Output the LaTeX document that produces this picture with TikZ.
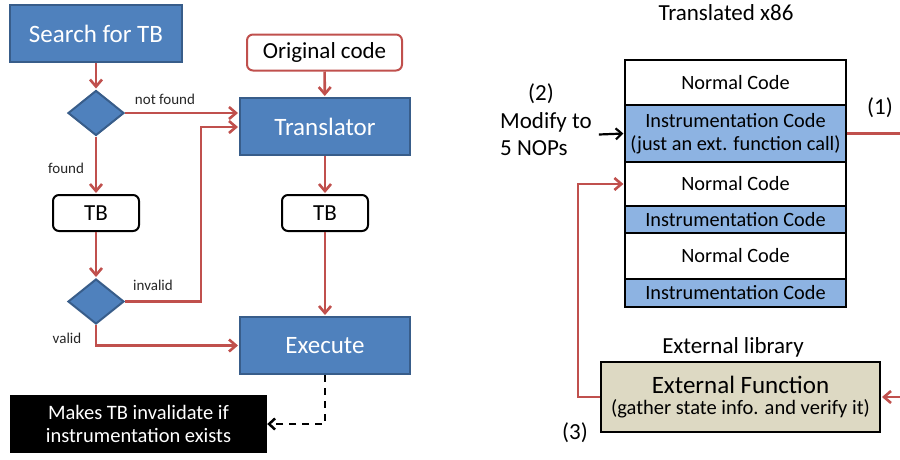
\documentclass[tikz,border=0pt]{standalone}
\usepackage{fontspec}
\setmainfont{Carlito}
\usetikzlibrary{arrows.meta,shapes.geometric,calc}
\definecolor{bluefill}{HTML}{4F81BD}
\definecolor{blueedge}{HTML}{385D8A}
\definecolor{redline}{HTML}{C0504D}
\definecolor{lightblue}{HTML}{8DB3E2}
\definecolor{tanfill}{HTML}{DDD9C3}
\newcommand{\fs}[1]{\fontsize{#1}{#1}\selectfont}
\tikzset{
  bluebox/.style={draw=blueedge, fill=bluefill, line width=2pt, text=white,
    font=\fs{25}, minimum width=170pt, minimum height=57pt, inner sep=0pt},
  decision/.style={diamond, draw=blueedge, fill=bluefill, line width=2pt,
    minimum width=56pt, minimum height=45pt, inner sep=0pt},
  tbbox/.style={draw=black, fill=white, rounded corners=6pt, line width=2pt,
    font=\fs{23}, minimum width=86pt, minimum height=36pt, inner sep=0pt},
  codebox/.style={draw=black, line width=1.2pt, minimum width=221pt, inner sep=0pt,
    font=\fs{20.3}, align=center},
  flow/.style={draw=redline, line width=2.6pt, shorten >=1pt,
    -{Straight Barb[length=7pt,width=12pt,line width=2.6pt]}},
  hint/.style={draw=black, line width=2.5pt, dash pattern=on 7pt off 6pt,
    -{Straight Barb[length=6pt,width=11pt,line width=2.5pt]}},
  small/.style={font=\fs{15}, text=black!85, inner sep=0pt},
  plain/.style={font=\fs{23}, inner sep=0pt}
}
\begin{document}
\begin{tikzpicture}[x=1pt,y=-1pt]
\useasboundingbox (0,0) rectangle (900,459);
\clip (0,0) rectangle (900,459);

% ---- translation flow ----
\node[bluebox, minimum width=172pt] (search) at (96,33.5) {Search for TB};
\node[draw=redline, fill=white, rounded corners=6pt, line width=2pt, font=\fs{23},
  minimum width=155pt, minimum height=36pt, inner sep=0pt] (orig) at (324.5,52.5) {Original code};
\node[bluebox] (trans) at (325,126.5) {Translator};
\node[decision] (d1) at (96,113) {};
\node[tbbox] (tbl) at (96,213) {TB};
\node[tbbox] (tbr) at (325,213) {TB};
\node[decision] (d2) at (96,301.5) {};
\node[bluebox] (exec) at (325,345.5) {Execute};
\node[fill=black, text=white, font=\fs{20.5}, align=center, inner sep=0pt,
  minimum width=257pt, minimum height=58pt] (note) at (138.5,424)
  {Makes TB invalidate if\\[3pt]instrumentation exists};

\coordinate (jog) at (201,127);
\draw[flow] (search) -- (d1);
\draw[flow] (d1.east) -- (d1.east -| trans.west);
\draw[flow] (orig) -- (trans);
\draw[flow] (d1) -- (tbl);
\draw[flow] (tbl) -- (d2);
\draw[flow] (trans) -- (tbr);
\draw[flow] (tbr) -- (exec);
\draw[flow] (d2.east) -| (jog) -- (jog -| trans.west);
\draw[flow] (d2.south) |- (exec.west);
\draw[hint] (exec.south) |- (note.east);

\node[small] (lnf) at (165,99) {not found};
\node[small] (lf) at (66,168) {found};
\node[small] (linv) at (153,285) {invalid};
\node[small] (lval) at (67,338) {valid};

% ---- translated code layout ----
\node[plain] (title) at (726,13) {Translated x86};
\node[codebox, fill=white, minimum height=45pt] (n1) at (735.5,82.5) {Normal Code};
\node[codebox, fill=lightblue, minimum height=57pt] (i1) at (735.5,133.5)
  {Instrumentation Code\\[3pt](just an ext. function call)};
\node[codebox, fill=white, minimum height=44pt] (n2) at (735.5,184) {Normal Code};
\node[codebox, fill=lightblue, minimum height=27pt] (i2) at (735.5,219.5) {Instrumentation Code};
\node[codebox, fill=white, minimum height=46pt] (n3) at (735.5,256) {Normal Code};
\node[codebox, fill=lightblue, minimum height=28pt] (i3) at (735.5,293) {Instrumentation Code};

\node[plain] (s2) at (541,94) {(2)};
\node[plain, anchor=west, align=left, font=\fontsize{23}{27}\selectfont] (modify) at (500,134.5)
  {Modify to\\5 NOPs};
\draw[draw=black, line width=2.2pt, shorten >=1pt,
  -{Straight Barb[length=6pt,width=11pt,line width=2.2pt]}]
  ([xshift=7pt]modify.east) -- (i1.west);

\node[plain] (s1) at (880,108) {(1)};
\node[plain] (lib) at (733,347) {External library};
\node[draw=black, fill=tanfill, line width=2pt, align=center, inner sep=0pt,
  minimum width=279pt, minimum height=70pt] (ext) at (740.5,397)
  {{\fs{25}External Function}\\[4pt]{\fs{20.5}(gather state info. and verify it)}};
\node[plain] (s3) at (575,433) {(3)};

\coordinate (offright) at (915,133.5);
\coordinate (back) at (578,184);
\draw[flow] (i1.east) -- (offright) |- (ext.east);
\draw[flow] (ext.west) -| (back) -- (n2.west);
\end{tikzpicture}
\end{document}
